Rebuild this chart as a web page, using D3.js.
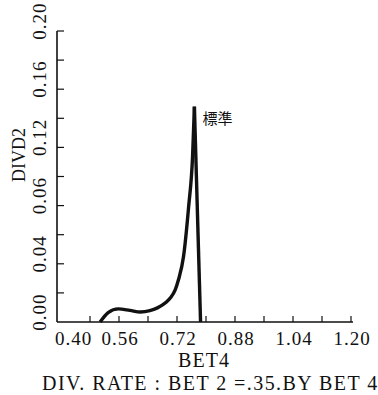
<!DOCTYPE html>
<html>
<head>
<meta charset="utf-8">
<script src="https://cdn.jsdelivr.net/npm/d3@7"></script>
<style>
  body { margin: 0; background: #fff; }
  svg { display: block; }
  text { font-family: "Liberation Serif", "DejaVu Serif", serif; fill: #111; }
</style>
</head>
<body>
<div id="chart"></div>
<script>
// curve: BET4 vs DIVD2
const bet4  = [0.508, 0.530, 0.558, 0.590, 0.619, 0.645, 0.666, 0.690, 0.702, 0.715, 0.724, 0.738, 0.752, 0.763, 0.768];
const divd2 = [0.000, 0.0065, 0.009, 0.0080, 0.0069, 0.0078, 0.0097, 0.0135, 0.0166, 0.022, 0.029, 0.045, 0.079, 0.114, 0.148];
// the drop after the peak is a straight line down to the axis
const dropX = [0.768, 0.785];
const dropY = [0.148, 0.000];

const xTickValues = [0.48, 0.56, 0.64, 0.72, 0.80, 0.88, 0.96, 1.04, 1.12, 1.20];
const xTickLabels = ["0.40", "0.56", "0.72", "0.88", "1.04", "1.20"];
const yTickValues = [0.02, 0.04, 0.06, 0.08, 0.10, 0.12, 0.14, 0.16, 0.18, 0.20];
const yTickLabels = ["0.00", "0.04", "0.06", "0.12", "0.16", "0.20"];
const yTickLabelAt = [0.00, 0.04, 0.08, 0.12, 0.16, 0.20];

const width = 378, height = 395;
const svg = d3.select("#chart").append("svg")
    .attr("width", width)
    .attr("height", height);

const x = d3.scaleLinear().domain([0.40, 1.20]).range([61, 351]);
const y = d3.scaleLinear().domain([0, 0.20]).range([322, 31]);

// axes lines
svg.append("line")
    .attr("x1", 57).attr("x2", 353)
    .attr("y1", y(0)).attr("y2", y(0))
    .attr("stroke", "#111").attr("stroke-width", 1.6);
svg.append("line")
    .attr("x1", 57).attr("x2", 57)
    .attr("y1", y(0)).attr("y2", y(0.20))
    .attr("stroke", "#111").attr("stroke-width", 1.6);

// inward ticks
svg.selectAll(".xtick")
    .data(xTickValues)
    .enter().append("line")
    .attr("class", "xtick")
    .attr("x1", d => x(d)).attr("x2", d => x(d))
    .attr("y1", y(0)).attr("y2", y(0) - 6)
    .attr("stroke", "#111").attr("stroke-width", 1.2);

svg.selectAll(".ytick")
    .data(yTickValues)
    .enter().append("line")
    .attr("class", "ytick")
    .attr("x1", 57).attr("x2", 64)
    .attr("y1", d => y(d)).attr("y2", d => y(d))
    .attr("stroke", "#111").attr("stroke-width", 1.2);

// x tick labels
svg.selectAll(".xlabel")
    .data(xTickLabels)
    .enter().append("text")
    .attr("class", "xlabel")
    .attr("x", (d, i) => i === 0 ? x(+d) - 6 : x(+d) + 1)
    .attr("y", 345)
    .attr("text-anchor", (d, i) => i === 0 ? "start" : "middle")
    .style("font-size", "19px")
    .style("letter-spacing", "1px")
    .text(d => d);

// y tick labels, rotated
svg.selectAll(".ylabel")
    .data(yTickLabels)
    .enter().append("text")
    .attr("class", "ylabel")
    .attr("transform", (d, i) => "translate(46," + (y(yTickLabelAt[i]) - 10) + ") rotate(-90)")
    .attr("text-anchor", "middle")
    .style("font-size", "19px")
    .style("letter-spacing", "1px")
    .text(d => d);

// the curve
const line = d3.line()
    .x(d => x(d[0]))
    .y(d => y(d[1]));

svg.append("path")
    .datum(d3.zip(bet4, divd2))
    .attr("d", line.curve(d3.curveMonotoneX))
    .attr("fill", "none")
    .attr("stroke", "#111")
    .attr("stroke-width", 3.4)
    .attr("stroke-linejoin", "round");

svg.append("path")
    .datum(d3.zip(dropX, dropY))
    .attr("d", line.curve(d3.curveLinear))
    .attr("fill", "none")
    .attr("stroke", "#111")
    .attr("stroke-width", 3.4);

// annotation at the peak
svg.append("text")
    .attr("x", x(0.768) + 8)
    .attr("y", 124)
    .style("font-family", "'Noto Sans CJK JP', sans-serif")
    .style("font-size", "15px")
    .text("標準");

// axis titles
svg.append("text")
    .attr("x", 204)
    .attr("y", 367)
    .attr("text-anchor", "middle")
    .style("font-size", "20px")
    .style("letter-spacing", "1px")
    .text("BET4");

svg.append("text")
    .attr("transform", "translate(25,155) rotate(-90)")
    .attr("text-anchor", "middle")
    .style("font-size", "18px")
    .text("DIVD2");

svg.append("text")
    .attr("x", 42)
    .attr("y", 390)
    .style("font-size", "20px")
    .style("letter-spacing", "1.45px")
    .text("DIV. RATE : BET 2 =.35.BY BET 4");
</script>
</body>
</html>
